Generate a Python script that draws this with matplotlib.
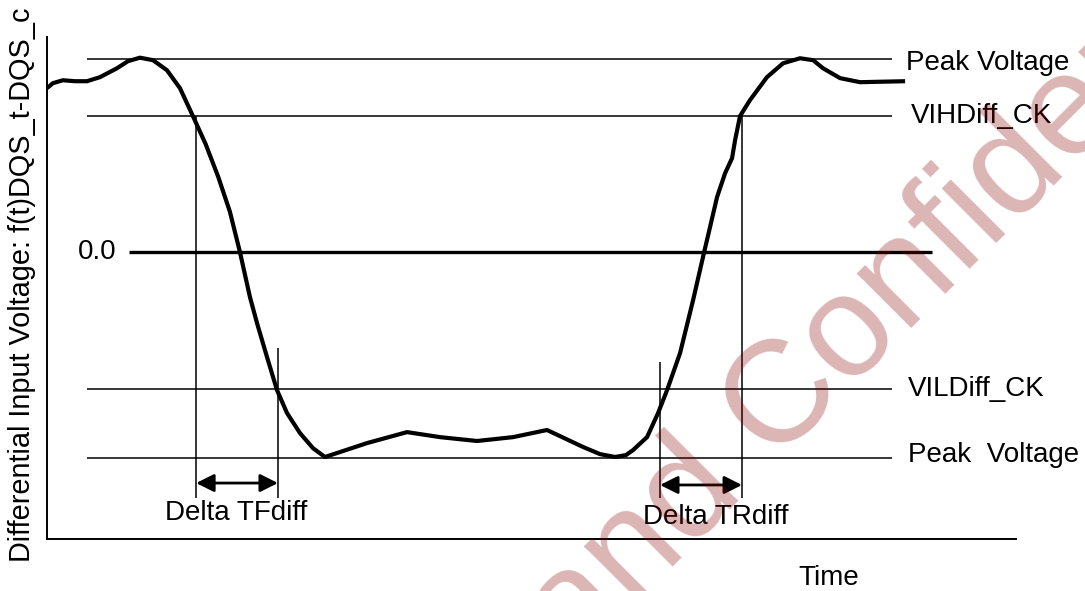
import numpy as np
import matplotlib.pyplot as plt

plt.rcParams['font.family'] = ['Liberation Sans', 'DejaVu Sans']

# waveform (time in % of axis, voltage normalised to peak)
time = [0.03, 0.65, 1.68, 2.92, 4.16, 5.50, 7.25, 8.39, 9.63, 10.97, 12.41, 13.75,
        15.09, 16.40, 17.70, 18.90, 19.94, 20.97, 21.70, 22.73, 23.76, 24.79,
        26.13, 27.47, 28.71, 33.04, 37.17, 40.58, 44.39, 48.11, 51.61, 55.33,
        57.08, 58.63, 59.76, 60.49, 61.93, 63.07, 64.00, 65.34, 66.68, 67.82,
        68.43, 69.15, 69.98, 70.70, 71.01, 71.52, 72.55, 74.30, 75.96, 77.71,
        79.06, 80.09, 81.84, 83.90, 88.55]
voltage = [0.850, 0.876, 0.891, 0.886, 0.886, 0.907, 0.953, 0.990, 1.008, 0.995,
           0.943, 0.850, 0.705, 0.560, 0.390, 0.210, 0.0, -0.233, -0.368, -0.544,
           -0.715, -0.834, -0.938, -1.016, -1.062, -0.990, -0.933, -0.959, -0.979,
           -0.959, -0.922, -1.010, -1.047, -1.062, -1.052, -1.026, -0.959, -0.834,
           -0.715, -0.523, -0.249, 0.0, 0.130, 0.285, 0.409, 0.487, 0.580, 0.705,
           0.788, 0.907, 0.979, 1.005, 0.995, 0.953, 0.902, 0.881, 0.886]

peak_high = 1.0
vih = 0.705
vil = -0.710
peak_low = -1.067
level_values = [peak_high, vih, vil, peak_low]
level_labels = ['Peak Voltage', 'VIHDiff_CK', 'VILDiff_CK', 'Peak  Voltage']

# crossing times used for the delta markers
tf_start, tf_end = 15.42, 23.86
tr_start, tr_end = 63.27, 71.73

fig = plt.figure(figsize=(10.85, 5.91), dpi=100)
ax = fig.add_axes([0.043, 0.088, 0.8935, 0.849])
ax.set_xlim(0, 100)
ax.set_ylim(-1.487, 1.114)
for s in ['top', 'right']:
    ax.spines[s].set_visible(False)
for s in ['left', 'bottom']:
    ax.spines[s].set_linewidth(1.4)
ax.set_xticks([])
ax.set_yticks([])

# reference levels
ax.hlines(level_values, 4.2, 87.2, color='k', lw=1.1)
ax.hlines(0, 8.5, 91.3, color='k', lw=2.4)
ax.text(7.25, 0, '0.0', ha='right', va='center', fontsize=20)

label_x = [88.6, 89.1, 88.8, 88.9]
label_dy = [-0.02, 0.0, 0.0, 0.015]
for lx, v, lab, dy in zip(label_x, level_values, level_labels, label_dy):
    ax.text(lx, v + dy, lab, ha='left', va='center', fontsize=20)

# waveform
ax.plot(time, voltage, color='k', lw=3, solid_joinstyle='round', solid_capstyle='butt')

# delta markers
ax.vlines(tf_start, -1.275, vih, color='k', lw=1.1)
ax.vlines(tf_end, -1.275, -0.497, color='k', lw=1.1)
ax.vlines(tr_start, -1.275, -0.57, color='k', lw=1.1)
ax.vlines(tr_end, -1.275, vih, color='k', lw=1.1)

arrow = dict(arrowstyle='<|-|>', color='k', lw=2, mutation_scale=27,
             shrinkA=0, shrinkB=0)
ax.annotate('', xy=(tf_start, -1.197), xytext=(tf_end, -1.197), arrowprops=arrow)
ax.annotate('', xy=(tr_start, -1.207), xytext=(tr_end, -1.207), arrowprops=arrow)
ax.text(19.5, -1.352, 'Delta TFdiff', ha='center', va='center', fontsize=20)
ax.text(69.0, -1.373, 'Delta TRdiff', ha='center', va='center', fontsize=20)

ax.text(80.7, -1.689, 'Time', ha='center', va='center', fontsize=20, clip_on=False)
fig.text(0.020, 1 - 562 / 591, 'Differential Input Voltage: f(t)DQS_t-DQS_c',
         rotation=90, ha='center', va='bottom', fontsize=20.8)

# watermark (only part of it falls inside the picture, as in the source)
fig.text(0.530, -0.124, 'and Confidential', rotation=45, rotation_mode='anchor',
         ha='left', va='baseline', fontsize=104, color=(0.533, 0, 0), alpha=0.294,
         zorder=10)

fig.savefig('out.png', dpi=100)
